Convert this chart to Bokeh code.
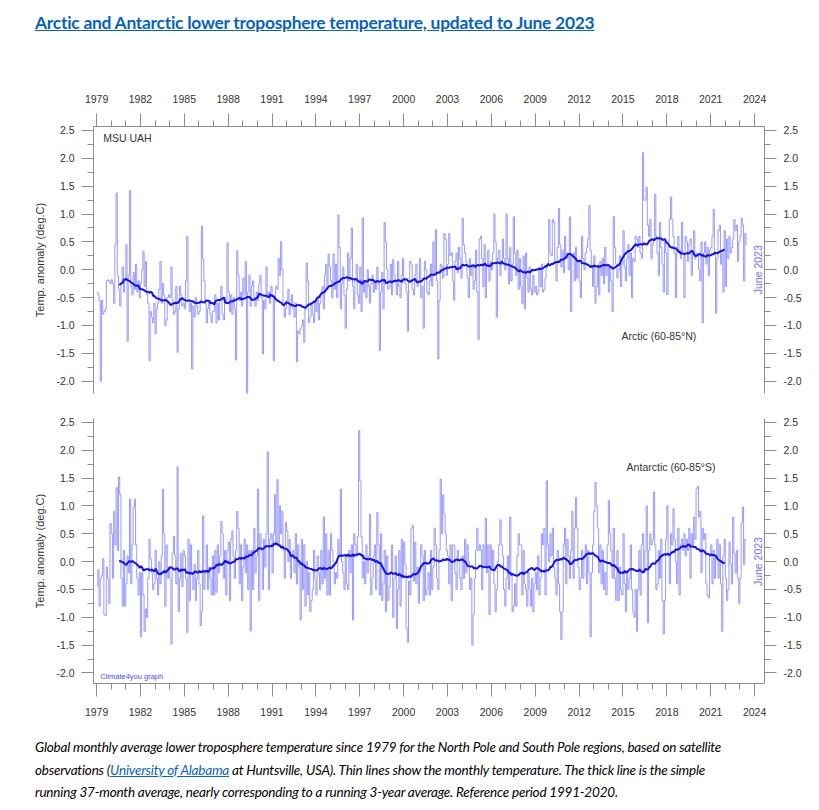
import numpy as np
from bokeh.plotting import figure
from bokeh.layouts import column
from bokeh.models import (Range1d, LinearAxis, FixedTicker, PrintfTickFormatter, Div)
from bokeh.core.properties import value
from bokeh.embed import file_html
from bokeh.resources import INLINE

# ---------------- data (monthly anomalies, deg C) ----------------
start_year = 1979
arctic = [
    -0.40, -0.45, -0.55, -2.00, -0.55, -0.80, -0.75, -0.70, -0.20, -0.18, -0.20, -0.25,
    -0.18, -0.25, -0.60, 0.45, 1.38, -0.10, -0.35, -0.65, -0.25, 0.05, -0.40, -0.20,
    0.45, -1.28, -0.10, 1.42, -0.30, -0.45, -0.05, -0.35, 0.10, -0.40, -0.20, -0.50,
    -0.25, 0.00, 0.33, -0.30, 0.15, -0.45, -0.60, -1.63, -0.75, -0.85, -0.95, -0.60,
    -1.15, -0.70, -0.60, -0.35, 0.15, -0.60, -0.25, -0.45, -1.00, -0.90, -0.50, -0.45,
    -0.50, 0.05, -0.55, -0.80, -0.75, -0.30, -1.48, -0.70, -0.30, -0.45, -0.65, -0.60,
    -0.70, -0.20, 0.60, -0.55, -0.75, -0.60, -1.78, -0.65, -0.85, -0.50, -0.65, -0.80,
    -0.75, -0.55, 0.78, 0.20, -0.20, -0.60, -0.95, -0.70, -0.55, -0.80, -0.95, -0.75,
    -0.75, -0.45, -0.95, -0.60, -0.90, -0.55, -0.30, -0.80, -0.90, -0.50, -0.60, 0.48,
    -0.40, -0.75, -0.45, -0.80, -0.50, -0.70, -1.62, 0.34, -0.10, -0.55, -0.40, -0.65,
    -0.15, -0.45, 0.15, -2.35, -0.40, -0.10, -0.65, -0.30, -0.20, -0.50, -0.65, -0.40,
    -0.55, -0.25, -0.10, -0.50, -1.51, -0.55, -0.70, 0.05, -0.45, -0.40, -0.60, -0.30,
    -0.45, -1.63, -0.50, -0.30, -0.35, 0.20, -0.10, 0.50, 0.00, -0.60, -0.85, -0.70,
    -0.55, -0.35, -0.80, -0.60, -0.45, -0.70, -0.85, -0.60, -1.65, -1.10, -1.15, -1.05,
    -1.00, -0.90, -1.30, -0.70, 0.12, -0.20, -0.95, -0.85, -0.60, -0.80, -0.95, -0.55,
    -0.75, -0.50, -0.90, -0.60, -0.45, -0.30, -0.70, -0.10, 0.10, -0.35, 0.28, 0.05,
    -0.20, -0.50, 0.28, -0.35, 0.10, -0.50, 0.98, 0.40, -0.70, -0.25, 0.05, -0.45,
    -1.05, -0.35, 0.30, -0.20, 0.20, 0.75, -0.30, -0.70, -0.20, 0.10, -0.45, -0.60,
    0.05, -0.75, 0.93, -0.40, -0.20, -0.50, 0.00, -0.30, -0.60, -0.25, -0.10, -0.40,
    -0.20, -0.35, 0.05, -0.25, -1.45, -0.40, -0.05, -0.70, 0.85, 0.50, 0.00, -0.35,
    -0.30, 0.10, -0.45, 0.18, -0.10, -0.25, -0.45, 0.15, -0.30, -0.50, -0.10, 0.20,
    -0.15, -0.25, -0.40, -1.10, -0.20, 0.15, 0.10, -0.35, -0.45, -0.10, 0.10, -0.30,
    -0.20, 0.20, -0.50, -0.30, -1.05, 0.15, 0.00, -0.40, -0.45, -0.20, 0.10, -0.30,
    0.50, -0.10, 0.72, -0.20, -1.60, -0.55, 0.10, 0.05, -0.15, 0.65, 0.55, -0.10,
    0.10, 0.65, 0.25, 0.30, -0.20, -0.55, 0.15, 0.30, -0.05, 0.40, 0.20, -0.15,
    0.92, 0.45, 0.30, 0.15, -0.15, -0.50, 0.20, -0.10, 0.05, -0.35, -0.20, 0.35,
    -0.40, -1.25, 0.55, 0.60, 0.20, -0.30, 0.45, -0.50, 0.10, 0.35, -0.20, 0.15,
    0.00, 0.30, 1.00, 0.50, -0.85, 0.20, 0.35, -0.10, 0.10, 0.55, 0.20, 0.00,
    1.00, 0.20, -0.25, 0.40, -0.20, 0.10, 0.95, 0.30, -0.10, 0.35, -0.35, 0.20,
    -0.30, -0.60, 0.25, -0.70, 0.30, -0.15, -0.40, 0.05, -0.35, -0.45, -0.10, -0.40,
    -0.30, -0.45, -0.40, 0.05, -0.30, 0.10, -0.40, -0.35, -0.15, 0.05, 0.10, 0.90,
    0.30, 0.25, 0.90, 0.85, 0.15, -0.20, 0.40, 1.10, 0.45, 0.05, 0.35, -0.05,
    0.60, 0.20, 0.30, 0.00, 0.95, -0.75, 0.25, 0.30, -0.20, 0.40, -0.15, 0.15,
    -0.20, -0.50, 0.60, 0.20, 0.00, 0.30, 0.40, 0.55, 1.15, 0.35, 0.05, -0.30,
    0.25, -0.60, -0.30, 0.05, -0.45, 0.15, -0.10, 0.20, -0.25, 0.40, -0.10, 0.10,
    -0.40, 0.05, -0.20, -0.75, 0.95, 0.40, 0.10, -0.15, 0.00, 0.25, -0.30, 0.10,
    0.70, 0.05, -0.20, 0.20, 0.45, -0.10, 0.30, -0.50, 0.20, 0.15, 0.60, 0.55,
    0.40, 0.60, 0.30, 0.20, 2.10, 1.25, 1.25, 1.48, 0.80, 0.60, 0.90, 0.20,
    0.45, 0.55, 1.35, 0.60, 0.30, -0.10, 0.85, 0.40, 0.10, -0.40, 0.50, 0.30,
    -0.45, 0.50, 0.90, 1.30, 0.90, 0.60, 0.30, -0.50, 0.40, 0.60, 0.35, 0.20,
    0.85, 0.30, -0.50, 0.60, 0.50, 0.15, 0.45, 0.55, -0.10, 0.30, 0.70, 0.20,
    0.30, 0.25, 0.00, -0.20, 0.50, -0.95, 0.30, 0.50, 0.10, 0.40, -0.10, 0.35,
    0.40, 0.60, 1.08, 0.30, -0.78, 0.20, 0.70, 0.80, 0.10, 0.30, -0.40, 0.70,
    -0.30, 0.55, 0.20, 0.60, 0.30, 0.40, 0.55, 0.90, 0.70, 0.80, 0.15, 0.50,
    0.60, 0.92, 0.80, -0.20, 0.65, 0.45,
]
antarctic = [
    -0.45, -0.15, -0.80, -0.30, -0.25, 0.05, -0.95, -0.97, -0.10, -0.30, -0.75, 0.68,
    0.50, -0.30, 0.90, 0.30, 1.33, 0.20, 1.52, 1.20, -0.30, -0.80, 0.20, -0.80,
    -0.40, 0.10, -0.20, 1.12, -0.40, 0.30, 0.98, 1.12, 0.30, -0.30, -0.60, -0.20,
    -1.35, -0.20, -0.60, -1.25, -0.85, -1.00, -0.30, 0.40, 0.05, -0.20, -0.50, -0.40,
    0.20, -0.30, -0.60, 0.00, -0.40, 0.10, 1.30, 0.50, -0.80, 0.30, -0.30, -0.10,
    -0.30, -1.48, 0.15, 0.45, 0.10, -0.40, 1.70, -0.90, -0.30, 0.15, -0.45, 0.20,
    0.10, -0.30, -1.27, 0.40, -0.70, 0.30, -0.20, -0.50, -0.05, -0.70, -0.30, 0.20,
    -0.40, -1.15, -0.90, 0.82, -0.50, -0.20, 0.30, -0.50, -0.10, -0.30, -0.60, 0.10,
    -0.60, 0.20, -0.55, 0.30, -0.20, 0.10, 0.72, 0.50, -0.30, 0.20, -0.60, 0.20,
    0.35, -0.70, 0.40, 0.55, 0.10, -0.30, 0.20, 0.90, 0.60, -0.40, 0.30, -0.70,
    -0.10, 0.40, -0.20, 0.30, -0.50, 0.20, -1.25, 0.20, -0.50, 0.60, -0.20, 0.10,
    1.30, -0.70, 0.50, 0.20, -0.50, 0.40, -0.10, 0.50, 1.97, -0.50, 0.40, 0.50,
    -0.20, 0.50, 1.20, 0.30, 1.47, 0.30, 1.00, 0.50, 0.90, 0.20, -0.30, 0.70,
    0.55, 0.00, 0.40, -0.30, 0.10, 0.20, -0.20, 0.50, -0.40, 0.30, -0.10, -1.05,
    0.40, -0.50, 0.30, -0.80, 0.00, -0.60, -0.20, -0.90, -0.70, -0.50, 0.20, -0.30,
    -0.60, 0.10, -0.20, -0.50, 0.20, -0.40, 0.80, -0.30, 0.50, -0.60, 0.20, -0.60,
    0.50, 0.20, 0.00, -0.40, -0.20, -0.30, 0.40, 0.10, 1.30, 0.00, -0.20, -0.50,
    0.10, -0.40, -0.50, 0.20, -0.20, 0.30, -1.05, 0.50, 0.30, 0.10, 0.45, 2.35,
    1.45, 0.45, -0.30, 0.00, -0.40, 0.30, -0.20, 0.10, 0.85, -0.60, -0.30, 0.10,
    0.30, -0.50, 0.88, 0.30, -0.60, 0.50, -0.70, -0.40, 0.20, -0.90, 0.10, -0.70,
    -0.45, -0.20, 0.30, -1.00, -0.30, 0.10, -1.20, -0.50, 0.20, -0.80, 0.40, -0.30,
    0.35, -0.05, -1.20, -1.45, -0.35, -0.60, 0.60, 0.65, -0.35, 0.35, -0.40, -0.10,
    -0.75, -0.20, 0.30, 0.10, -0.70, 0.20, -0.60, -0.50, -0.20, -0.60, 0.20, -0.50,
    -0.10, 0.60, 0.30, -0.30, -0.50, 0.20, 1.48, 0.50, 1.20, 0.85, 0.50, 0.20,
    0.10, -0.40, 0.30, -0.70, 0.30, 0.30, -0.20, -0.50, 0.20, 0.00, -0.30, -0.50,
    0.10, -0.30, 0.40, -0.20, 0.30, 0.00, -0.50, -0.30, -1.50, -0.95, -0.30, 0.20,
    0.60, 0.20, 0.30, 0.20, -0.50, 0.30, -0.10, 0.78, -0.20, 0.30, -0.95, 0.30,
    -0.10, 0.20, -0.40, -0.90, -0.50, 0.00, 0.30, 0.75, 0.30, 0.10, -0.50, -0.80,
    -0.30, 0.10, -0.50, 0.80, -0.20, -0.90, -0.80, -0.40, -0.80, 0.10, 0.50, 0.30,
    0.30, -0.60, 0.20, -0.40, -0.50, -0.80, -0.20, -0.50, -0.80, -0.30, -0.90, -0.40,
    -0.20, -0.50, 0.10, -0.60, -0.30, 0.50, 0.30, 0.60, -0.60, 1.45, 0.30, 0.00,
    0.50, 0.10, 0.60, -0.10, -0.30, -0.60, 0.20, -0.40, -0.90, -1.40, -0.90, 0.30,
    0.60, -0.40, 0.40, 0.10, -0.30, 0.20, 0.90, -0.30, 0.60, 1.15, 0.60, -0.10,
    -0.50, -0.30, 0.20, -0.30, 0.10, 0.30, -0.40, 0.20, -0.20, -1.35, -0.20, 0.30,
    0.90, 1.42, 1.00, 0.60, -0.20, 0.30, -0.40, 0.20, -0.50, -0.20, -0.60, 0.30,
    1.10, 0.50, 0.20, -0.30, 0.60, -0.30, -0.70, 0.20, -0.70, -0.10, -0.50, -0.60,
    0.50, -0.40, -0.90, -0.20, -0.50, -0.30, 0.30, -0.50, -0.90, -1.00, -0.50, -1.25,
    -0.50, 0.20, -0.60, 0.30, 0.50, -0.20, 0.20, 1.00, -1.10, 0.20, 0.50, 0.30,
    0.40, 1.25, 0.30, -0.50, -0.40, 0.20, -0.30, 0.40, -0.70, -1.30, -0.70, 0.40,
    1.00, 0.10, -0.40, 0.50, 0.30, 0.95, 0.40, 0.00, -0.40, 0.60, -0.60, 0.30,
    0.40, 0.20, 0.50, 0.10, 0.40, 0.20, 0.60, -0.30, 0.50, 0.30, 0.80, 0.40,
    1.30, 1.35, 0.80, 0.90, -0.20, 0.60, 0.40, 0.50, -0.40, -0.60, -0.65, 0.10,
    0.30, -0.40, 0.20, -0.30, 0.10, 0.40, -0.30, 0.30, -0.40, -1.25, 0.10, 0.40,
    -0.30, -0.70, -0.50, 0.35, -0.05, -0.40, 0.80, 0.15, -0.20, 0.20, -0.30, -0.75,
    -0.30, 0.70, 0.98, -0.05, 0.40, 0.40,
]
year_ticks = list(range(1979, 2025, 3))
year_minor = list(range(1979, 2025))
y_ticks = [-2.0, -1.5, -1.0, -0.5, 0.0, 0.5, 1.0, 1.5, 2.0, 2.5]
window = 37

# ---------------- styling ----------------
THIN = "#7878FF"
THICK = "#1010F0"
AX = "#8c8c8c"
LBL = "#333333"
FONT = "Liberation Sans"


def monthly_source(vals):
    n = len(vals)
    x = start_year + (np.arange(n) + 0.5) / 12.0
    return x, np.asarray(vals, dtype=float)


def running(vals):
    x, y = monthly_source(vals)
    k = np.ones(window) / window
    rm = np.convolve(y, k, mode="valid")
    h = window // 2
    return x[h:len(x) - h], rm


def style_y(ax):
    ax.ticker = FixedTicker(ticks=y_ticks,
                            minor_ticks=[t + 0.25 for t in y_ticks[:-1]] + [-2.25])
    ax.formatter = PrintfTickFormatter(format="%.1f")
    ax.major_tick_out = 12
    ax.major_tick_in = 0
    ax.minor_tick_out = 6
    ax.minor_tick_in = 0
    ax.axis_line_color = AX
    ax.major_tick_line_color = AX
    ax.minor_tick_line_color = AX
    ax.major_label_text_font = FONT
    ax.major_label_text_font_size = "10.5px"
    ax.major_label_text_color = LBL
    ax.major_label_standoff = 7


def style_x(ax):
    ax.ticker = FixedTicker(ticks=year_ticks, minor_ticks=year_minor)
    ax.major_tick_out = 13
    ax.major_tick_in = 0
    ax.minor_tick_out = 6
    ax.minor_tick_in = 0
    ax.axis_line_color = AX
    ax.major_tick_line_color = AX
    ax.minor_tick_line_color = AX
    ax.major_label_text_font = FONT
    ax.major_label_text_font_size = "10.5px"
    ax.major_label_text_color = LBL
    ax.major_label_standoff = 11


def make_panel(vals, ytop, ybot, height, border_top, border_bottom, x_loc):
    p = figure(width=811, height=height,
               x_range=Range1d(1978.79, 2024.68), y_range=Range1d(ybot, ytop),
               output_backend="svg", toolbar_location=None,
               x_axis_location=x_loc,
               min_border_left=93, min_border_right=47,
               min_border_top=border_top, min_border_bottom=border_bottom)
    p.outline_line_color = None
    p.grid.visible = False
    p.background_fill_color = "white"
    p.border_fill_color = "white"
    style_x(p.xaxis[0])
    style_y(p.yaxis[0])
    p.yaxis[0].axis_label = "Temp. anomaly (deg.C)"
    p.yaxis[0].axis_label_text_font = FONT
    p.yaxis[0].axis_label_text_font_style = "normal"
    p.yaxis[0].axis_label_text_font_size = "11px"
    p.yaxis[0].axis_label_text_color = LBL
    p.yaxis[0].axis_label_standoff = 7
    ry = LinearAxis()
    style_y(ry)
    p.add_layout(ry, "right")

    x, y = monthly_source(vals)
    p.step(x, y, mode="center", line_color=THIN, line_width=1, line_alpha=0.75)
    rx, ry_ = running(vals)
    p.line(rx, ry_, line_color=THICK, line_width=2)
    p.text(x=[2024.25], y=[0.0], text=["June 2023"], angle=np.pi / 2,
           text_font=value(FONT), text_font_size="10.5px", text_color="#6f6fff",
           text_align="center", text_baseline="middle")
    return p


top = make_panel(arctic, 2.57, -2.22, 355, 76, 12, "above")
bot = make_panel(antarctic, 2.57, -2.19, 318, 13, 40, "below")

top.text(x=[1979.45], y=[2.37], text=["MSU UAH"], text_font=value(FONT),
         text_font_size="10.5px", text_color=LBL, text_baseline="middle")
top.text(x=[2014.9], y=[-1.18], text=["Arctic (60-85\u00b0N)"], text_font=value(FONT),
         text_font_size="10.5px", text_color=LBL, text_baseline="middle")
bot.text(x=[2015.25], y=[1.70], text=["Antarctic (60-85\u00b0S)"], text_font=value(FONT),
         text_font_size="10.5px", text_color=LBL, text_baseline="middle")
bot.text(x=[1979.25], y=[-2.06], text=["Climate4you graph"], text_font=value(FONT),
         text_font_size="7.5px", text_color="#4a4aff", text_baseline="middle")

title = Div(
    text='<div style="font-family:Lato,sans-serif;font-weight:bold;font-size:17.4px;'
         'color:#0563C1;text-decoration:underline;letter-spacing:-0.25px;'
         'white-space:nowrap;padding-left:35px;padding-top:11px;">'
         'Arctic and Antarctic lower troposphere temperature, updated to June 2023</div>',
    width=811, height=50, margin=(0, 0, 0, 0))

caption = Div(
    text='<div style="font-family:Lato,sans-serif;font-style:italic;font-size:13.5px;'
         'line-height:22.5px;color:#000;white-space:nowrap;padding-left:35px;'
         'padding-top:13px;letter-spacing:-0.2px;">'
         'Global monthly average lower troposphere temperature since 1979 for the North Pole '
         'and South Pole regions, based on satellite<br>'
         'observations (<span style="color:#0563C1;text-decoration:underline;">'
         'University of Alabama</span> at Huntsville, USA). Thin lines show the monthly '
         'temperature. The thick line is the simple<br>'
         'running 37-month average, nearly corresponding to a running 3-year average. '
         'Reference period 1991-2020.</div>',
    width=811, height=79, margin=(0, 0, 0, 0))

layout = column(title, top, bot, caption, spacing=0)
open("out.html", "w").write(file_html(layout, INLINE))
